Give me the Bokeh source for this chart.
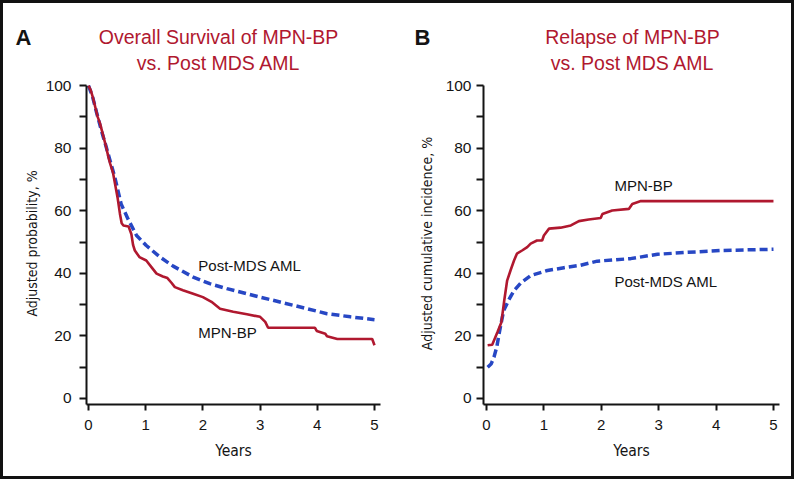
from bokeh.plotting import figure
from bokeh.layouts import row, column
from bokeh.models import FixedTicker, Label, Range1d
from bokeh.embed import file_html
from bokeh.resources import INLINE

# ---------------- data ----------------
year_ticks = [0, 1, 2, 3, 4, 5]
y_major_ticks = [0, 20, 40, 60, 80, 100]
y_minor_ticks = [10, 30, 50, 70, 90]

# Panel A: overall survival (adjusted probability, %)
os_mpn_years = [0, 0.04, 0.08, 0.12, 0.16, 0.2, 0.25, 0.3, 0.35, 0.38, 0.43, 0.47, 0.51,
                0.55, 0.58, 0.61, 0.7, 0.75, 0.78, 0.81, 0.89, 1.01, 1.1, 1.19, 1.3, 1.38,
                1.45, 1.51, 1.65, 1.83, 2.0, 2.15, 2.3, 2.53, 2.77, 3.0, 3.09, 3.14, 3.96,
                3.99, 4.14, 4.17, 4.35, 4.96, 5.0]
os_mpn_values = [100, 98.5, 96, 93, 90, 88, 84.5, 81, 77, 75, 72, 68, 64,
                 59, 56, 55.3, 55, 52.5, 49, 47.3, 45.2, 44.1, 42, 39.9, 39, 38.5,
                 37, 35.6, 34.6, 33.5, 32.4, 30.9, 28.7, 27.7, 26.9, 26.1, 24.5, 22.6, 22.6,
                 21.6, 20.7, 19.9, 19.0, 19.0, 17.0]
os_mds_years = [0, 0.07, 0.14, 0.22, 0.3, 0.37, 0.46, 0.57, 0.69, 0.84, 1.01, 1.25, 1.48,
                1.83, 2.12, 2.42, 3.0, 3.58, 4.17, 4.58, 5.0]
os_mds_values = [100, 96.5, 91.5, 86, 81, 76.5, 70.7, 62.2, 57.4, 52.1, 48.9, 45.2, 42.3,
                 38.8, 36.7, 35.1, 32.4, 29.8, 27.1, 26.1, 25.2]

# Panel B: relapse (adjusted cumulative incidence, %)
rel_mpn_years = [0.02, 0.1, 0.19, 0.26, 0.31, 0.36, 0.42, 0.48, 0.53, 0.62, 0.71, 0.77,
                 0.88, 0.97, 1.0, 1.09, 1.29, 1.47, 1.61, 1.78, 1.99, 2.02, 2.19, 2.48,
                 2.54, 2.69, 5.0]
rel_mpn_values = [17.0, 17.2, 21.2, 24.4, 31.4, 37.7, 41.0, 44.1, 46.3, 47.3, 48.4, 49.5,
                  50.5, 50.5, 52.1, 54.3, 54.6, 55.3, 56.7, 57.2, 57.7, 59.0, 60.1, 60.6,
                  62.2, 63.1, 63.1]
rel_mds_years = [0.02, 0.08, 0.13, 0.18, 0.22, 0.26, 0.3, 0.39, 0.48, 0.6, 0.77, 1.06,
                 1.35, 1.64, 1.93, 2.51, 2.98, 3.5, 4.08, 5.0]
rel_mds_values = [10, 11, 13.2, 16.5, 20.7, 24.5, 28.1, 31.6, 34.5, 37, 39.3, 40.9,
                  41.8, 42.6, 43.9, 44.7, 46.1, 46.7, 47.3, 47.7]

series_names = ["MPN-BP", "Post-MDS AML"]
panel_letters = ["A", "B"]
titles_a = ["Overall Survival of MPN-BP", "vs. Post MDS AML"]
titles_b = ["Relapse of MPN-BP", "vs. Post MDS AML"]

# ---------------- style ----------------
RED = "#B0182F"
BLUE = "#2747C4"
INK = "#141414"
FONT = "Liberation Sans"
NARROW = "'DejaVu Sans Condensed', 'Liberation Sans'"
Y_START, Y_END = -1.92, 101
HEAD_H = 70
PANEL_W = 394
LETTER_Y = 34


def make_header(letter, letter_standoff, title_lines, frame_left, frame_right, title_x):
    # header strip; its frame is aligned with the chart frame below
    h = figure(width=PANEL_W, height=HEAD_H, x_range=Range1d(frame_left, frame_right),
               y_range=Range1d(HEAD_H, 0), output_backend="svg", toolbar_location=None,
               x_axis_location=None, min_border=0,
               outline_line_color=None, background_fill_color="white",
               border_fill_color="white")
    h.grid.visible = False
    ya = h.yaxis[0]
    ya.ticker = FixedTicker(ticks=[LETTER_Y])
    ya.major_label_overrides = {LETTER_Y: letter}
    ya.major_label_text_font = FONT
    ya.major_label_text_font_size = "22px"
    ya.major_label_text_font_style = "bold"
    ya.major_label_text_color = INK
    ya.major_label_standoff = letter_standoff
    ya.major_tick_in = 0
    ya.major_tick_out = 0
    ya.minor_tick_in = 0
    ya.minor_tick_out = 0
    ya.axis_line_color = None
    for line, ty in zip(title_lines, [33, 59]):
        h.add_layout(Label(x=title_x, y=ty, text=line, text_color=RED,
                           text_font=FONT, text_font_size="19.5px",
                           text_align="center", text_baseline="middle"))
    return h


def make_panel(x_start, x_end, border_left, border_right, ylabel, tick_standoff,
               label_standoff):
    p = figure(width=PANEL_W, height=473 - HEAD_H,
               x_range=Range1d(x_start, x_end), y_range=Range1d(Y_START, Y_END),
               output_backend="svg", toolbar_location=None,
               min_border_left=border_left, min_border_right=border_right,
               min_border_top=82 - 3 - HEAD_H, min_border_bottom=72,
               outline_line_color=None, background_fill_color="white",
               border_fill_color="white")
    p.grid.visible = False

    xa = p.xaxis[0]
    xa.ticker = FixedTicker(ticks=year_ticks)
    xa.axis_label = "Years"
    xa.axis_label_text_font = NARROW
    xa.axis_label_text_font_size = "15.5px"
    xa.axis_label_text_font_style = "normal"
    xa.axis_label_text_color = INK
    xa.axis_label_standoff = 9
    xa.major_label_text_font = FONT
    xa.major_label_text_font_size = "15px"
    xa.major_label_text_color = INK
    xa.major_label_standoff = 9
    xa.major_tick_in = 0
    xa.major_tick_out = 6
    xa.minor_tick_out = 0
    xa.axis_line_width = 2
    xa.axis_line_color = INK
    xa.major_tick_line_width = 2
    xa.major_tick_line_color = INK

    ya = p.yaxis[0]
    ya.ticker = FixedTicker(ticks=y_major_ticks, minor_ticks=y_minor_ticks)
    ya.bounds = (Y_START, 100)
    ya.axis_label = ylabel
    ya.axis_label_text_font = NARROW
    ya.axis_label_text_font_size = "14px"
    ya.axis_label_text_font_style = "normal"
    ya.axis_label_text_color = INK
    ya.axis_label_standoff = label_standoff
    ya.major_label_text_font = FONT
    ya.major_label_text_font_size = "15.5px"
    ya.major_label_text_color = INK
    ya.major_label_standoff = tick_standoff
    ya.major_tick_in = 0
    ya.major_tick_out = 7
    ya.minor_tick_in = 0
    ya.minor_tick_out = 7
    ya.axis_line_width = 2
    ya.axis_line_color = INK
    ya.major_tick_line_width = 2
    ya.major_tick_line_color = INK
    ya.minor_tick_line_width = 2
    ya.minor_tick_line_color = INK
    return p


def add_text(p, x, y, text):
    p.add_layout(Label(x=x, y=y, text=text, text_color=INK, text_font_size="15px",
                       text_font=FONT, text_align="left", text_baseline="middle"))


# ---------------- panel A ----------------
ha = make_header(panel_letters[0], 55, titles_a, 86, 380, 218)
pa = make_panel(-0.035, 5.105, 83, 17, "Adjusted probability, %", 8, 3)
pa.line(os_mds_years, os_mds_values, line_color=BLUE, line_width=3.5, line_dash="8 4")
pa.line(os_mpn_years, os_mpn_values, line_color=RED, line_width=2.6)
add_text(pa, 1.92, 42.5, series_names[1])
add_text(pa, 1.92, 21.1, series_names[0])

# ---------------- panel B ----------------
hb = make_header(panel_letters[1], 53, titles_b, 483, 779, 632)
pb = make_panel(-0.052, 5.105, 86, 12, "Adjusted cumulative incidence, %", 5, 8)
pb.line(rel_mds_years, rel_mds_values, line_color=BLUE, line_width=3.5, line_dash="8 4")
pb.line(rel_mpn_years, rel_mpn_values, line_color=RED, line_width=2.6)
add_text(pb, 2.23, 68.0, series_names[0])
add_text(pb, 2.23, 37.4, series_names[1])

layout = row(column(ha, pa), column(hb, pb), styles={"border": "3px solid #111111"})

open("out.html", "w").write(file_html(layout, INLINE))
